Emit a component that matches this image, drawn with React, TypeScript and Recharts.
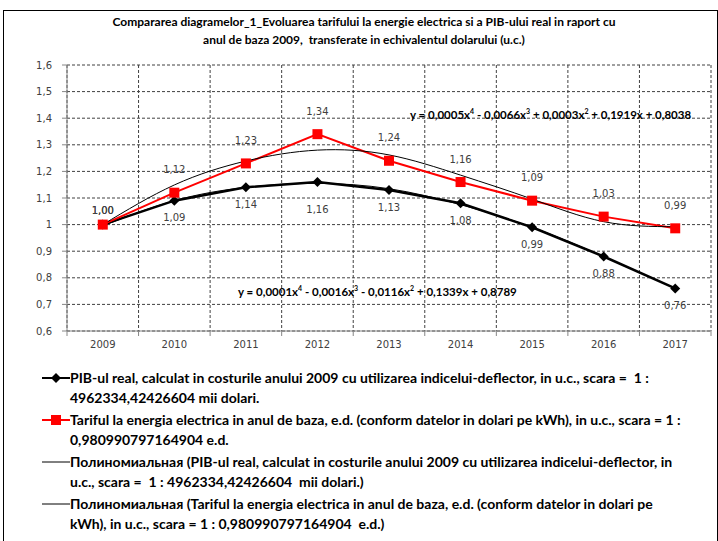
import React from "react";
import { LineChart, Line, XAxis, YAxis, CartesianGrid, LabelList } from "recharts";

const years = [2009, 2010, 2011, 2012, 2013, 2014, 2015, 2016, 2017];
const pibReal = [1.0, 1.09, 1.14, 1.16, 1.13, 1.08, 0.99, 0.88, 0.76];
const tarif = [1.0, 1.12, 1.23, 1.34, 1.24, 1.16, 1.09, 1.03, 0.986];
// trend lines
const pibTrend = [0.995, 1.09, 1.14, 1.155, 1.135, 1.075, 0.99, 0.88, 0.76];
const tarifTrend = [1.0, 1.149, 1.239, 1.28, 1.262, 1.186, 1.096, 1.011, 0.992];
const yTicks = [0.6, 0.7, 0.8, 0.9, 1.0, 1.1, 1.2, 1.3, 1.4, 1.5, 1.6];
const yearEdges = [...years.map((y) => y - 0.5), years[years.length - 1] + 0.5];

const data = years.map((year, i) => ({
  year,
  pib: pibReal[i],
  tarif: tarif[i],
  pibTrend: pibTrend[i],
  tarifTrend: tarifTrend[i],
}));

const FONT_NARROW = "Lato, 'Noto Sans', sans-serif";
const FONT_LABEL = "'DejaVu Sans', Verdana, sans-serif";

const fmt = (v: number) => v.toFixed(2).replace(".", ",");
const fmtAxis = (v: number) => (Math.abs(v - 1) < 1e-9 ? "1" : v.toFixed(1).replace(".", ","));

const Diamond = (props: any) => {
  const { cx, cy } = props;
  if (cx == null || cy == null) return null;
  return <path d={`M${cx},${cy - 5}L${cx + 5},${cy}L${cx},${cy + 5}L${cx - 5},${cy}Z`} fill="#000" />;
};

const Square = (props: any) => {
  const { cx, cy } = props;
  if (cx == null || cy == null) return null;
  return <rect x={cx - 5} y={cy - 5} width={10} height={10} fill="#ff0000" />;
};

const makeLabel = (below: boolean) => (props: any) => {
  const { x, y, value, index } = props;
  let dy = below ? 17 : -23;
  if (index === 0) dy = -14;
  if (below && index === 3) dy = 27; // the 2012 label sits a bit lower in the original
  return (
    <text x={x} y={y + dy} textAnchor="middle" dominantBaseline="central" fontFamily={FONT_LABEL} fontSize={10} fill="#404040">
      {fmt(value)}
    </text>
  );
};

const YearTick = (props: any) => {
  const { x, y, payload } = props;
  const v = payload.value as number;
  if (Number.isInteger(v)) {
    return (
      <text x={x} y={y + 17} textAnchor="middle" fontFamily={FONT_LABEL} fontSize={10} fill="#404040">
        {v}
      </text>
    );
  }
  return <line x1={x} x2={x} y1={y} y2={y + 5} stroke="#868686" />;
};

const legendItems = [
  {
    symbol: "diamond",
    lines: [
      "PIB-ul real, calculat in costurile anului 2009 cu utilizarea indicelui-deflector, in u.c., scara =  1 :",
      "4962334,42426604 mii dolari.",
    ],
  },
  {
    symbol: "square",
    lines: [
      "Tariful la energia electrica in anul de baza, e.d. (conform datelor in dolari pe kWh), in u.c., scara = 1 :",
      "0,980990797164904 e.d.",
    ],
  },
  {
    symbol: "line",
    lines: [
      "Полиномиальная (PIB-ul real, calculat in costurile anului 2009 cu utilizarea indicelui-deflector, in",
      "u.c., scara =  1 : 4962334,42426604  mii dolari.)",
    ],
  },
  {
    symbol: "line",
    lines: [
      "Полиномиальная (Tariful la energia electrica in anul de baza, e.d. (conform datelor in dolari pe",
      "kWh), in u.c., scara = 1 : 0,980990797164904  e.d.)",
    ],
  },
];

function LegendSymbol({ kind }: { kind: string }) {
  return (
    <svg width={28} height={12} style={{ position: "absolute", left: 0, top: 4 }}>
      {kind === "square" ? (
        <>
          <line x1={0} x2={28} y1={6} y2={6} stroke="#ff0000" strokeWidth={2} />
          <rect x={9} y={1} width={10} height={10} fill="#ff0000" />
        </>
      ) : kind === "diamond" ? (
        <>
          <line x1={0} x2={28} y1={6} y2={6} stroke="#000" strokeWidth={2} />
          <path d="M14,1L19,6L14,11L9,6Z" fill="#000" />
        </>
      ) : (
        <line x1={0} x2={28} y1={6} y2={6} stroke="#000" strokeWidth={1} />
      )}
    </svg>
  );
}

const eqStyle: React.CSSProperties = {
  position: "absolute",
  fontFamily: FONT_NARROW,
  fontWeight: 700,
  fontSize: 11.5,
  color: "#000",
  whiteSpace: "nowrap",
};
const sup: React.CSSProperties = { fontSize: 7 };

export default function App() {
  return (
    <div style={{ position: "fixed", left: 0, top: 0, width: 718, height: 541, overflow: "hidden", background: "#fff" }}>
      <div style={{ position: "absolute", left: 3, top: 10, width: 715, height: 560, border: "1px solid #000", boxSizing: "border-box" }} />
      <div
        style={{
          position: "absolute",
          left: 0,
          top: 13,
          width: 728,
          textAlign: "center",
          fontFamily: FONT_NARROW,
          fontWeight: 700,
          fontSize: 12,
          lineHeight: "18px",
          color: "#000",
          whiteSpace: "pre",
        }}
      >
        <div>Compararea diagramelor_1_Evoluarea tarifului la energie electrica si a PIB-ului real in raport cu</div>
        <div>anul de baza 2009,  transferate in echivalentul dolarului (u.c.)</div>
      </div>

      <div style={{ position: "absolute", left: 0, top: 0 }}>
        <LineChart width={718} height={362} data={data} margin={{ top: 65, right: 7, left: 12, bottom: 0 }}>
          <XAxis xAxisId="edges" dataKey="year" type="number" domain={[2008.5, 2017.5]} ticks={yearEdges} hide />
          <CartesianGrid xAxisId="edges" stroke="#404040" strokeDasharray="3 2" />
          <XAxis
            dataKey="year"
            type="number"
            domain={[2008.5, 2017.5]}
            ticks={[...years, ...yearEdges]}
            interval={0}
            height={31}
            tickLine={false}
            tickSize={0}
            tickMargin={0}
            tick={<YearTick />}
            axisLine={{ stroke: "#868686" }}
          />
          <YAxis
            type="number"
            domain={[0.6, 1.6]}
            ticks={yTicks}
            interval={0}
            width={55}
            tickSize={5}
            tickMargin={10}
            tickFormatter={fmtAxis}
            tick={{ fontFamily: FONT_LABEL, fontSize: 10, fill: "#404040" }}
            axisLine={{ stroke: "#868686" }}
            tickLine={{ stroke: "#868686" }}
          />
          <Line dataKey="pib" type="linear" stroke="#000" strokeWidth={2.5} dot={<Diamond />} activeDot={false} isAnimationActive={false}>
            <LabelList dataKey="pib" content={makeLabel(true)} />
          </Line>
          <Line dataKey="tarif" type="linear" stroke="#ff0000" strokeWidth={2} dot={<Square />} activeDot={false} isAnimationActive={false}>
            <LabelList dataKey="tarif" content={makeLabel(false)} />
          </Line>
          <Line dataKey="pibTrend" type="natural" stroke="#000" strokeWidth={1} dot={false} activeDot={false} isAnimationActive={false} />
          <Line dataKey="tarifTrend" type="natural" stroke="#000" strokeWidth={1} dot={false} activeDot={false} isAnimationActive={false} />
        </LineChart>
      </div>

      <div style={{ ...eqStyle, left: 410, top: 107 }}>
        y = 0,0005x<sup style={sup}>4</sup> - 0,0066x<sup style={sup}>3</sup> + 0,0003x<sup style={sup}>2</sup> + 0,1919x + 0,8038
      </div>
      <div style={{ ...eqStyle, left: 238, top: 284 }}>
        y = 0,0001x<sup style={sup}>4</sup> - 0,0016x<sup style={sup}>3</sup> - 0,0116x<sup style={sup}>2</sup> + 0,1339x + 0,8789
      </div>

      <div style={{ position: "absolute", left: 42, top: 368, fontFamily: FONT_NARROW, fontWeight: 700, fontSize: 14, lineHeight: "19.5px", color: "#000" }}>
        {legendItems.map((item, i) => (
          <div key={i} style={{ position: "relative", paddingLeft: 28, marginBottom: 3, whiteSpace: "pre" }}>
            <LegendSymbol kind={item.symbol} />
            {item.lines.map((l, j) => (
              <div key={j}>{l}</div>
            ))}
          </div>
        ))}
      </div>
    </div>
  );
}
